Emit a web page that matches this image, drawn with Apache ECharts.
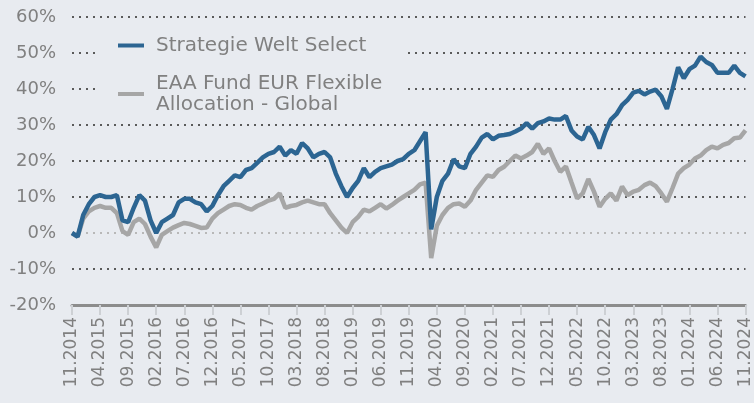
<!DOCTYPE html>
<html>
<head>
<meta charset="utf-8">
<script src="https://cdn.jsdelivr.net/npm/echarts@6/dist/echarts.min.js"></script>
<style>
html, body { margin: 0; padding: 0; background: #e8ebf0; }
#draw { width: 754px; height: 403px; }
</style>
</head>
<body>
<div id="draw"></div>
<script>
// monatliche Werte in %, Start 11.2014
var seriesNames = ['Strategie Welt Select', 'EAA Fund EUR Flexible\nAllocation - Global'];

var strategie = [
	0, -1, 5, 8, 10, 10.5, 10, 10, 10.5, 3.5, 3, 7, 10.5, 9, 3.5, 0, 3, 4, 5, 8.5,
	9.5, 9.5, 8.5, 8, 6, 7.5, 10.5, 13, 14.5, 16, 15.5, 17.5, 18, 19.5, 21, 22, 22.5, 24, 21.5, 23,
	22, 25, 23.5, 21, 22, 22.5, 21, 16.5, 13, 10, 12.5, 14.5, 18, 15.5, 17, 18, 18.5, 19, 20, 20.5,
	22, 23, 25.5, 28, 1, 10, 14.5, 16.5, 20.5, 18.5, 18, 22, 24, 26.5, 27.5, 26, 27, 27.2, 27.5, 28.2,
	29, 30.5, 29, 30.5, 31, 31.8, 31.5, 31.5, 32.5, 28.5, 26.8, 26, 29.5, 27.2, 23.5, 28, 31.5, 33, 35.5, 37,
	39, 39.5, 38.5, 39.3, 39.8, 38, 34.5, 40, 46, 43, 45.5, 46.5, 49, 47.5, 46.7, 44.5, 44.5, 44.5, 46.5, 44.5,
	43.5
];

var eaaFund = [
	0, -1, 4, 6, 7, 7.5, 7, 7, 5.5, 0.5, -0.5, 3, 4, 2.5, -1, -4, -0.5, 0.5, 1.5, 2.2,
	2.8, 2.5, 2, 1.4, 1.5, 4, 5.5, 6.5, 7.5, 8, 7.8, 7, 6.5, 7.5, 8.2, 9, 9.5, 11, 7, 7.5,
	7.8, 8.5, 9, 8.5, 8, 8, 5.5, 3.5, 1.5, 0, 3, 4.5, 6.5, 6, 7, 8, 6.8, 7.8, 9, 10,
	11, 12, 13.5, 14, -7, 2, 5, 7, 8, 8.2, 7.3, 9, 12, 14, 16, 15.6, 17.5, 18.4, 20, 21.5,
	20.7, 21.5, 22.5, 24.8, 22, 23.5, 20, 17, 18.5, 14, 9.6, 11, 15, 11.5, 7.3, 9.5, 11, 9, 12.9, 10.5,
	11.5, 12, 13.3, 14, 13, 11, 8.7, 12.5, 16.5, 18, 19, 20.7, 21.5, 23, 24, 23.5, 24.5, 25, 26.3, 26.5,
	28.5
];

// Monatsbeschriftungen MM.YYYY
var months = [];
for (var i = 0; i < strategie.length; i++) {
	var m = (10 + i) % 12 + 1;
	var y = 2014 + Math.floor((10 + i) / 12);
	months.push((m < 10 ? '0' + m : '' + m) + '.' + y);
}

var textColor = '#808080';
var bg = '#e8ebf0';

var myChart = echarts.init(document.getElementById('draw'));
var option = {
	backgroundColor : bg,
	animation : false,
	textStyle : {
		fontFamily : 'DejaVu Sans'
	},
	grid : {
		left : 72,
		right : 2,
		top : 17,
		bottom : 98
	},
	// Hintergrund der Legende, verdeckt die Gitterlinien
	graphic : [ {
		type : 'rect',
		left : 100,
		top : 27,
		z : 5,
		silent : true,
		shape : {
			width : 305,
			height : 86
		},
		style : {
			fill : bg
		}
	} ],
	legend : {
		orient : 'vertical',
		left : 104,
		top : 31,
		z : 10,
		itemWidth : 26,
		itemHeight : 4,
		itemGap : 17,
		padding : [4, 10, 6, 14],
		icon : 'rect',
		formatter : function(name) {
			return name.split('\n').map(function(s) {
				return '{t|' + s + '}';
			}).join('\n');
		},
		textStyle : {
			color : textColor,
			fontSize : 20,
			lineHeight : 21,
			rich : {
				t : {
					color : textColor,
					fontSize : 20,
					lineHeight : 21,
					padding : [0, 0, 0, 7]
				}
			}
		},
		data : seriesNames
	},
	xAxis : {
		type : 'category',
		data : months,
		boundaryGap : false,
		axisLine : {
			onZero : false,
			lineStyle : {
				color : '#8c8c8c',
				width : 3
			}
		},
		axisTick : {
			interval : 4,
			length : 10,
			lineStyle : {
				color : '#cdd0d4',
				width : 2
			}
		},
		axisLabel : {
			interval : 4,
			rotate : 90,
			color : textColor,
			fontSize : 17,
			margin : 12
		},
		splitLine : {
			show : false
		}
	},
	yAxis : {
		type : 'value',
		min : -20,
		max : 60,
		interval : 10,
		axisLine : {
			show : false
		},
		axisTick : {
			show : false
		},
		axisLabel : {
			color : textColor,
			fontSize : 18,
			margin : 16,
			formatter : '{value}%'
		},
		splitLine : {
			show : true,
			lineStyle : {
				color : '#5a5a5a',
				type : [2, 5],
				width : 2
			}
		}
	},
	series : [ {
		name : seriesNames[1],
		type : 'line',
		data : eaaFund,
		symbol : 'none',
		z : 3,
		itemStyle : {
			color : '#a6a6a6'
		},
		lineStyle : {
			color : '#a6a6a6',
			width : 4.5
		},
		markLine : {
			silent : true,
			symbol : 'none',
			label : {
				show : false
			},
			z : 1,
			lineStyle : {
				color : '#b8b8b8',
				type : [2, 5],
				width : 2
			},
			data : [ {
				yAxis : 0
			} ]
		}
	}, {
		name : seriesNames[0],
		type : 'line',
		data : strategie,
		symbol : 'none',
		z : 4,
		itemStyle : {
			color : '#2c6592'
		},
		lineStyle : {
			color : '#2c6592',
			width : 4.5
		}
	} ]
};
myChart.setOption(option);
</script>
</body>
</html>
